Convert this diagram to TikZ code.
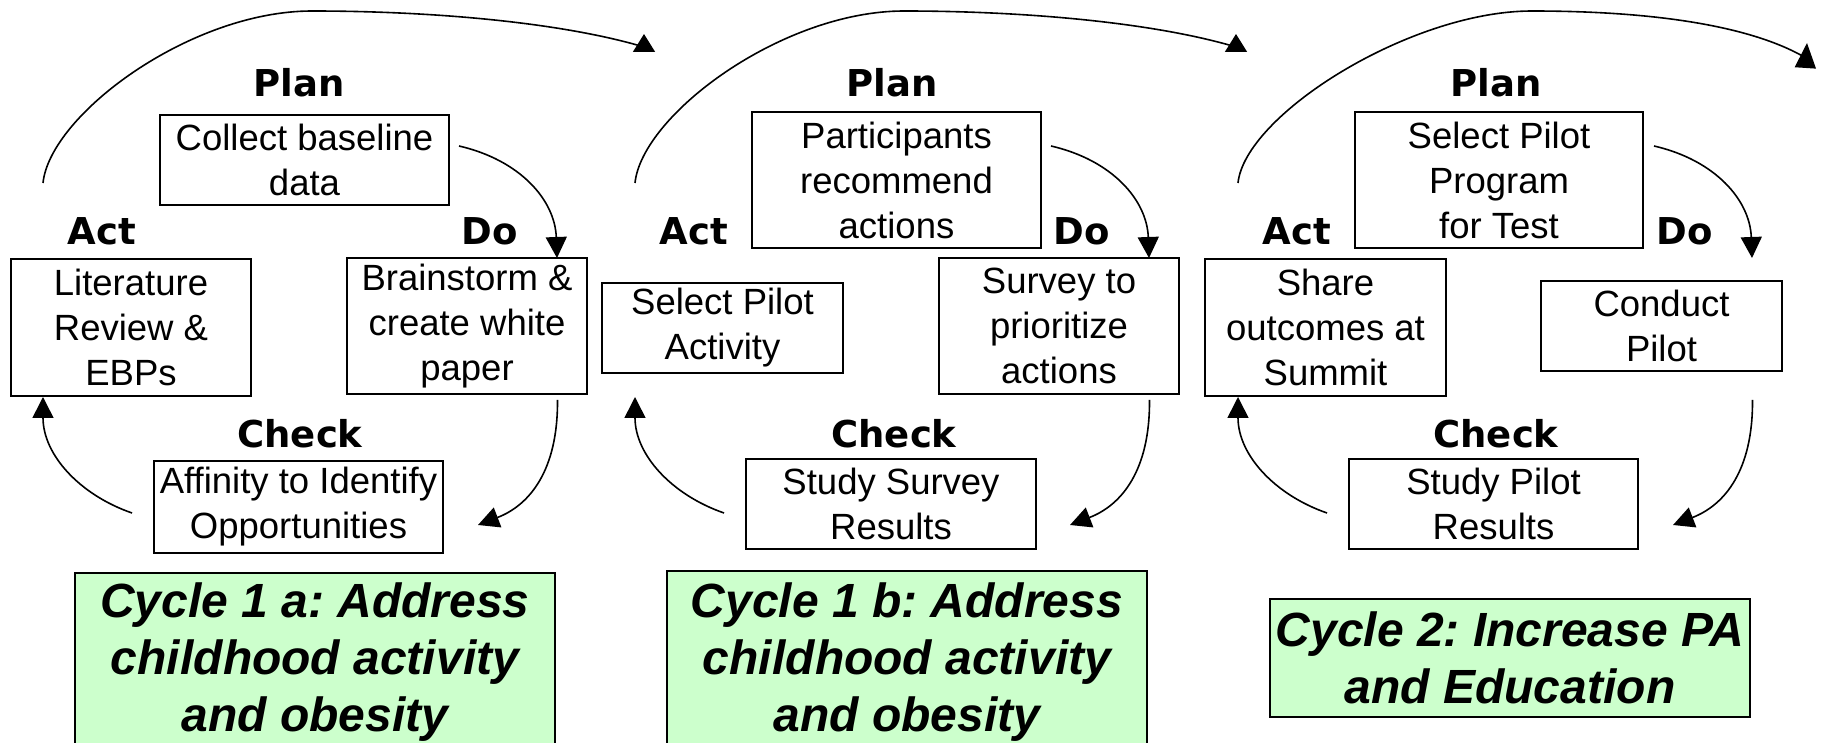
\documentclass[tikz,border=0pt]{standalone}
\usepackage{fontspec}
\setmainfont{Liberation Sans}
\newfontfamily\lblfont{DejaVu Sans}
\usetikzlibrary{arrows.meta}
\definecolor{paleGreen}{HTML}{CCFFCC}
\frenchspacing
\tikzset{
  box/.style={draw, line width=1pt, inner sep=0pt, align=center,
    font=\fontsize{18.25pt}{22.5pt}\selectfont},
  phase/.style={anchor=base, inner sep=0pt,
    font=\lblfont\bfseries\fontsize{18.5pt}{22pt}\selectfont},
  cyclebox/.style={draw, line width=1pt, fill=paleGreen, inner sep=0pt,
    align=center, minimum width=240pt,
    font=\bfseries\itshape\fontsize{24pt}{28.5pt}\selectfont},
  flow/.style={line width=0.8pt, -{Triangle[length=10.5pt,width=10.5pt]}},
  arcflow/.style={line width=0.8pt, -{Triangle[length=9pt,width=11pt]}},
}
\newcommand\cyclearrows[1]{%
  \coordinate (pds#1) at (459,146);  \coordinate (pde#1) at (557,258);
  \coordinate (dcs#1) at (557.5,400); \coordinate (dce#1) at (478,525);
  \coordinate (cas#1) at (132,513);  \coordinate (cae#1) at (43,397);
  \draw[flow] (pds#1) .. controls (520,160) and (555,200) .. (pde#1);
  \draw[flow] (dcs#1) .. controls (558,470) and (530,505) .. (dce#1);
  \draw[flow] (cas#1) .. controls (80,495) and (43,455) .. (cae#1);
}
\begin{document}
\begin{tikzpicture}[x=0.5pt, y=-0.5pt]
\useasboundingbox (0,0) rectangle (1828,743);
\clip (0,0) rectangle (1828,743);

% ---------- Cycle 1 a ----------
\node[phase] (plan1)  at (299,97)  {Plan};
\node[phase] (act1)   at (102,245) {Act};
\node[phase] (do1)    at (490,245) {Do};
\node[phase] (check1) at (300,448) {Check};
\node[box, minimum width=144.5pt, minimum height=45pt] (p1) at (304.5,160) {Collect baseline\\data};
\node[box, minimum width=120pt, minimum height=68.5pt] (a1) at (131,327.5) {Literature\\Review \&\\EBPs};
\node[box, minimum width=120pt, minimum height=68pt] (d1) at (467,326) {Brainstorm \&\\create white\\paper};
\node[box, minimum width=144.5pt, minimum height=46pt] (c1) at (298.5,507) {Affinity to Identify\\Opportunities};
\node[cyclebox, minimum height=89pt] (g1) at (315,662) {Cycle 1 a: Address\\childhood activity\\and obesity};

% ---------- Cycle 1 b ----------
\node[phase] (plan2)  at (892,97)  {Plan};
\node[phase] (act2)   at (694,245) {Act};
\node[phase] (do2)    at (1082,245) {Do};
\node[phase] (check2) at (894,448) {Check};
\node[box, minimum width=144.5pt, minimum height=68pt] (p2) at (896.5,180) {Participants\\recommend\\actions};
\node[box, minimum width=120.5pt, minimum height=45pt] (a2) at (722.5,328) {Select Pilot\\Activity};
\node[box, minimum width=120pt, minimum height=68pt] (d2) at (1059,326) {Survey to\\prioritize\\actions};
\node[box, minimum width=145pt, minimum height=45pt] (c2) at (891,504) {Study Survey\\Results};
\node[cyclebox, minimum height=91pt] (g2) at (907,662) {Cycle 1 b: Address\\childhood activity\\and obesity};

% ---------- Cycle 2 ----------
\node[phase] (plan3)  at (1496,97)  {Plan};
\node[phase] (act3)   at (1297,245) {Act};
\node[phase] (do3)    at (1685,245) {Do};
\node[phase] (check3) at (1496,448) {Check};
\node[box, minimum width=144pt, minimum height=68pt] (p3) at (1499,180) {Select Pilot\\Program\\for Test};
\node[box, minimum width=120.5pt, minimum height=68.5pt] (a3) at (1325.5,327.5) {Share\\outcomes at\\Summit};
\node[box, minimum width=120.5pt, minimum height=45pt] (d3) at (1661.5,326) {Conduct\\Pilot};
\node[box, minimum width=144.5pt, minimum height=45pt] (c3) at (1493.5,504) {Study Pilot\\Results};
\node[cyclebox, minimum height=59pt] (g3) at (1510,658) {Cycle 2: Increase PA\\and Education};

% ---------- inner cycle arrows ----------
\cyclearrows{1}
\begin{scope}[shift={(592,0)}]\cyclearrows{2}\end{scope}
\begin{scope}[shift={(1195,0)}]\cyclearrows{3}\end{scope}

% ---------- arcs from cycle to cycle ----------
\coordinate (arcs1) at (43,183);   \coordinate (arce1) at (644,34);
\coordinate (arcs2) at (635,183);  \coordinate (arce2) at (1236,34);
\coordinate (arcs3) at (1238,183); \coordinate (arce3) at (1807,43);
\draw[arcflow] (arcs1) .. controls (50,115) and (190,11) .. (312,11)
  .. controls (430,11) and (560,22) .. (644,47) -- (arce1);
\draw[arcflow] (arcs2) .. controls (642,115) and (782,11) .. (904,11)
  .. controls (1022,11) and (1152,22) .. (1236,47) -- (arce2);
\draw[line width=0.8pt, -{Triangle[length=12.5pt,width=10.5pt]}] (arcs3)
  .. controls (1245,115) and (1410,11) .. (1532,11)
  .. controls (1650,11) and (1750,25) .. (1806,58) -- (arce3);
\end{tikzpicture}
\end{document}
